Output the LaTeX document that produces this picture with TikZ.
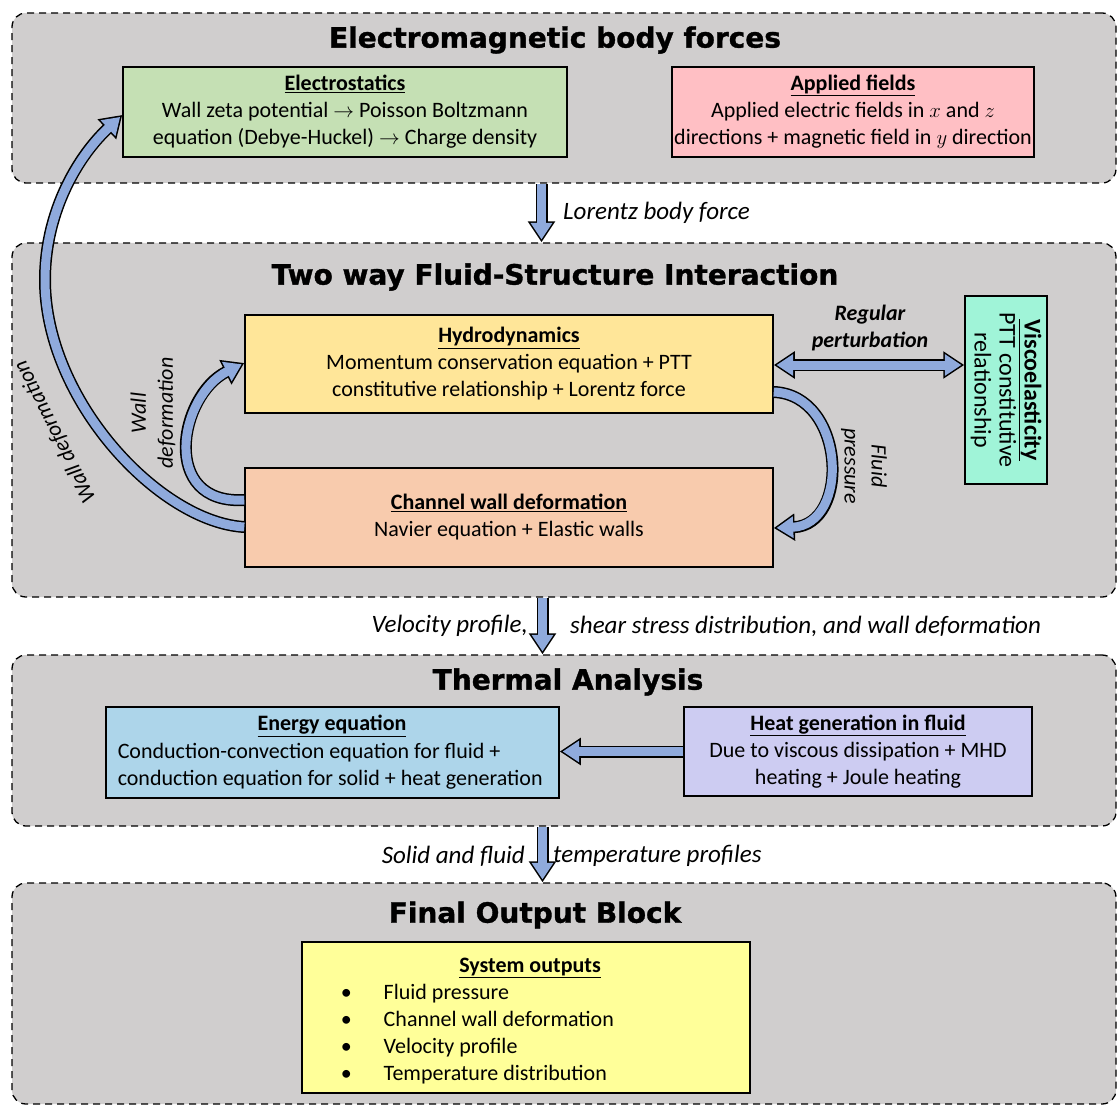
\documentclass[tikz,border=0pt]{standalone}
\usepackage{fontspec}
\setmainfont{Carlito}
\newfontfamily\titlefont{DejaVu Sans}[BoldFeatures={FakeBold=1.2}]
\usetikzlibrary{arrows.meta,calc}
\definecolor{panelgray}{HTML}{D0CECE}
\definecolor{arrowblue}{HTML}{8FAADC}
\definecolor{cgreen}{HTML}{C5E0B4}
\definecolor{cpink}{HTML}{FFBFC4}
\definecolor{cyellow}{HTML}{FFE699}
\definecolor{corange}{HTML}{F8CBAD}
\definecolor{caqua}{HTML}{A0F4D8}
\definecolor{cblue}{HTML}{ADD5EA}
\definecolor{clav}{HTML}{CDCCF2}
\definecolor{clight}{HTML}{FFFF99}
\tikzset{
  panel/.style={draw=black, line width=1.3pt, dash pattern=on 7pt off 5pt, fill=panelgray, rounded corners=14pt, minimum width=1104pt},
  box/.style={draw=black, line width=1.5pt, align=center, inner sep=0pt, font=\fontsize{22}{27}\selectfont},
  ttl/.style={font=\titlefont\bfseries\fontsize{28}{32}\selectfont, inner sep=0pt},
  lab/.style={font=\itshape\fontsize{25}{27}\selectfont, inner sep=0pt},
  barrow/.style={line width=9pt, draw=arrowblue, -{Triangle[length=16.6pt,width=20.6pt]}, shorten >=2.85pt,
    preaction={draw=black, line width=12pt, -{Triangle[length=21pt,width=26pt]}, shorten >=0pt}},
  dbarrow/.style={line width=9pt, draw=arrowblue, {Triangle[length=16.6pt,width=20.6pt]}-{Triangle[length=16.6pt,width=20.6pt]}, shorten >=2.85pt, shorten <=2.85pt,
    preaction={draw=black, line width=12pt, {Triangle[length=21pt,width=26pt]}-{Triangle[length=21pt,width=26pt]}, shorten >=0pt, shorten <=0pt}},
}
\begin{document}
\begin{tikzpicture}[x=1pt,y=-1pt]
\useasboundingbox[fill=white] (0,0) rectangle (1118,1107);
% panels
\node[panel, minimum height=170pt] (p1) at (564,98) {};
\node[panel, minimum height=354pt] (p2) at (564,420) {};
\node[panel, minimum height=171pt] (p3) at (564,740.5) {};
\node[panel, minimum height=221pt] (p4) at (564,993.5) {};
% titles
\node[ttl] (t1) at (555,40) {Electromagnetic body forces};
\node[ttl] (t2) at (555,277) {Two way Fluid-Structure Interaction};
\node[ttl] (t3) at (568,682) {Thermal Analysis};
\node[ttl] (t4) at (535,915) {Final Output Block};
% panel 1 boxes
\node[box, fill=cgreen, minimum width=444pt, minimum height=90pt] (es) at (345,112)
  {\underline{\textbf{Electrostatics}}\\ Wall zeta potential $\rightarrow$ Poisson Boltzmann\\ equation (Debye-Huckel) $\rightarrow$ Charge density};
\node[box, fill=cpink, minimum width=362pt, minimum height=90pt] (af) at (853,112)
  {\underline{\textbf{Applied fields}}\\ Applied electric fields in $x$ and $z$\\ directions + magnetic field in $y$ direction};
% panel 2 boxes
\node[box, fill=cyellow, minimum width=528pt, minimum height=98pt] (hy) at (509,364)
  {\underline{\textbf{Hydrodynamics}}\\ Momentum conservation equation + PTT\\ constitutive relationship + Lorentz force};
\node[box, fill=corange, minimum width=528pt, minimum height=99pt] (ch) at (509,517.5)
  {\underline{\textbf{Channel wall deformation}}\\ Navier equation + Elastic walls};
\node[box, fill=caqua, minimum width=82pt, minimum height=188pt] (vi) at (1006,390) {};
\node[box, draw=none, rotate=-90, font=\fontsize{24}{25}\selectfont] (vit) at (vi.center)
  {\underline{\textbf{Viscoelasticity}}\\ PTT constitutive\\ relationship};
% panel 3 boxes
\node[box, fill=cblue, minimum width=453pt, minimum height=91pt] (en) at (332.5,752.5) {};
\node[box, draw=none] (enh) at (332,726) {\underline{\textbf{Energy equation}}};
\node[box, draw=none, align=left, anchor=west] (ent) at (117,766)
  {Conduction-convection equation for fluid +\\ conduction equation for solid + heat generation};
\node[box, fill=clav, minimum width=348pt, minimum height=89pt] (hg) at (858,751.5)
  {\underline{\textbf{Heat generation in fluid}}\\ Due to viscous dissipation + MHD\\ heating + Joule heating};
% panel 4 box
\node[box, fill=clight, minimum width=448pt, minimum height=151pt] (so) at (526,1017.5) {};
\node[box, draw=none, anchor=center] (sot) at (530,968) {\underline{\textbf{System outputs}}};
\node[box, draw=none, align=left, anchor=north west] (sol) at (340,983)
  {\makebox[43pt][l]{\textbullet}Fluid pressure\\
   \makebox[43pt][l]{\textbullet}Channel wall deformation\\
   \makebox[43pt][l]{\textbullet}Velocity profile\\
   \makebox[43pt][l]{\textbullet}Temperature distribution};
% arrow coordinates
\coordinate (ax1) at (541.5,0);
\coordinate (ax2) at (542.5,0);
\coordinate (rp) at (0,365);
\coordinate (wm) at (45,280);
% vertical arrows
\draw[barrow] (p1.south -| ax1) -- (p2.north -| ax1);
\draw[barrow] (p2.south -| ax2) -- (p3.north -| ax2);
\draw[barrow] (p3.south -| ax2) -- (p4.north -| ax2);
% horizontal arrows
\draw[barrow] (hg.west) -- (hg.west -| en.east);
\draw[dbarrow] (hy.east |- rp) -- (vi.west |- rp);
% curved arrows
\draw[barrow] ([yshift=-28pt]hy.east) .. controls +(72,3) and +(77,-3) .. ([yshift=-10.5pt]ch.east);
\draw[barrow] ([yshift=17.5pt]ch.west) .. controls +(-85,5) and +(-65,32) .. ([yshift=1pt]hy.west);
\draw[barrow] ([yshift=-9.5pt]ch.west) .. controls +(-85,-5) and +(0,120) .. (wm)
   .. controls +(0,-70) and +(-43,40) .. ([yshift=-3pt]es.west);
% labels
\node[lab, anchor=west] (l1) at (563,213) {Lorentz body force};
\node[lab, anchor=east] (l2) at (528,626) {Velocity profile,};
\node[lab, anchor=west] (l3) at (570,626) {shear stress distribution, and wall deformation};
\node[lab, anchor=east] (l4) at (525,856) {Solid and fluid};
\node[lab, anchor=west] (l5) at (553,856) {temperature profiles};
\node[lab, font=\bfseries\itshape\fontsize{22}{27}\selectfont, align=center] (l6) at (870,328) {Regular\\perturbation};
\node[lab, rotate=-90, align=center, font=\itshape\fontsize{22}{27}\selectfont] (l7) at (864,466) {Fluid\\pressure};
\node[lab, rotate=90, align=center, font=\itshape\fontsize{22}{27}\selectfont] (l8) at (153,413) {Wall\\deformation};
\node[lab, rotate=117, font=\itshape\fontsize{22}{27}\selectfont] (l9) at (55,432) {Wall deformation};
\end{tikzpicture}
\end{document}
